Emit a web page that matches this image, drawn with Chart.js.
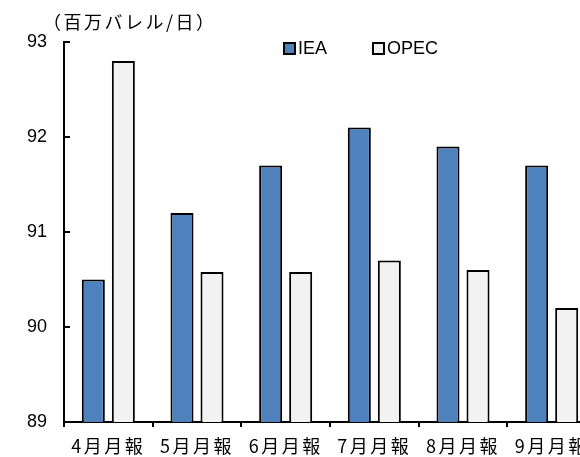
<!DOCTYPE html>
<html>
<head>
<meta charset="utf-8">
<script src="https://cdn.jsdelivr.net/npm/chart.js@4.4.0/dist/chart.umd.min.js"></script>
<style>
html, body { margin: 0; padding: 0; background: #fff; overflow: hidden; width: 580px; height: 457px; }
#wrap { position: relative; width: 600px; height: 457px; }
</style>
</head>
<body>
<div id="wrap"><canvas id="chart" width="600" height="457"></canvas></div>
<script>
// data
const months = ['4月月報', '5月月報', '6月月報', '7月月報', '8月月報', '9月月報'];
const ieaValues = [90.5, 91.2, 91.7, 92.1, 91.9, 91.7];
const opecValues = [92.8, 90.58, 90.58, 90.7, 90.6, 90.2];
const yTicks = [89, 90, 91, 92, 93];
const unitLabel = '（百万バレル/日）';

const latinFont = '"Liberation Sans", Arial, sans-serif';
const jpFont = '"Noto Sans CJK JP", sans-serif';

// title, legend, inward y ticks, and wider spacing for the x labels
const decor = {
    id: 'decor',
    afterDatasetsDraw(chart) {
        // x tick labels are on z 1, so they are drawn after this
        chart.ctx.letterSpacing = '2.5px';
    },
    afterDraw(chart) {
        const ctx = chart.ctx;
        ctx.letterSpacing = '0px';
        const y = chart.scales.y;
        const area = chart.chartArea;
        ctx.save();

        ctx.strokeStyle = '#000';
        ctx.lineWidth = 2;
        y.ticks.forEach(t => {
            const py = Math.round(y.getPixelForValue(t.value));
            ctx.beginPath();
            ctx.moveTo(area.left, py);
            ctx.lineTo(area.left + 6, py);
            ctx.stroke();
        });

        ctx.fillStyle = '#000';
        ctx.textBaseline = 'middle';
        ctx.font = '18px ' + jpFont;
        ctx.letterSpacing = '2.5px';
        ctx.fillText(unitLabel, 43, 22);
        ctx.letterSpacing = '0px';

        const legendX = [284, 373];
        ctx.font = '18px ' + latinFont;
        chart.data.datasets.forEach((ds, i) => {
            const x = legendX[i];
            ctx.fillStyle = ds.backgroundColor;
            ctx.fillRect(x, 43, 11, 11);
            ctx.strokeStyle = '#000';
            ctx.lineWidth = 2;
            ctx.strokeRect(x, 43, 11, 11);
            ctx.fillStyle = '#000';
            ctx.fillText(ds.label, x + 14, 49);
        });

        ctx.restore();
    }
};

new Chart(document.getElementById('chart'), {
    type: 'bar',
    data: {
        labels: months,
        datasets: [{
            label: 'IEA',
            data: ieaValues,
            backgroundColor: '#4F81BD',
            borderColor: '#000',
            borderWidth: 2,
            borderSkipped: false,
            categoryPercentage: 0.677,
            barPercentage: 0.767
        }, {
            label: 'OPEC',
            data: opecValues,
            backgroundColor: '#F2F2F2',
            borderColor: '#000',
            borderWidth: 2,
            borderSkipped: false,
            categoryPercentage: 0.677,
            barPercentage: 0.767
        }]
    },
    options: {
        responsive: false,
        animation: false,
        layout: { padding: { top: 42, right: 4, bottom: 0, left: 0 } },
        plugins: {
            legend: { display: false },
            title: { display: false },
            tooltip: { enabled: false }
        },
        scales: {
            x: {
                afterFit: s => { s.height = 35; },
                grid: {
                    drawOnChartArea: false,
                    drawTicks: true,
                    tickLength: 5,
                    color: '#000',
                    lineWidth: 2,
                    offset: true
                },
                border: { color: '#000', width: 2 },
                ticks: {
                    z: 1,
                    color: '#000',
                    font: { family: jpFont, size: 18 },
                    padding: 8,
                    maxRotation: 0,
                    autoSkip: false
                }
            },
            y: {
                min: 89,
                max: 93,
                afterFit: s => { s.width = 64; },
                afterBuildTicks: s => { s.ticks = yTicks.map(v => ({ value: v })); },
                grid: { drawOnChartArea: false, drawTicks: false },
                border: { color: '#000', width: 2 },
                ticks: {
                    color: '#000',
                    font: { family: latinFont, size: 18 },
                    padding: 17
                }
            }
        }
    },
    plugins: [decor]
});
</script>
</body>
</html>
